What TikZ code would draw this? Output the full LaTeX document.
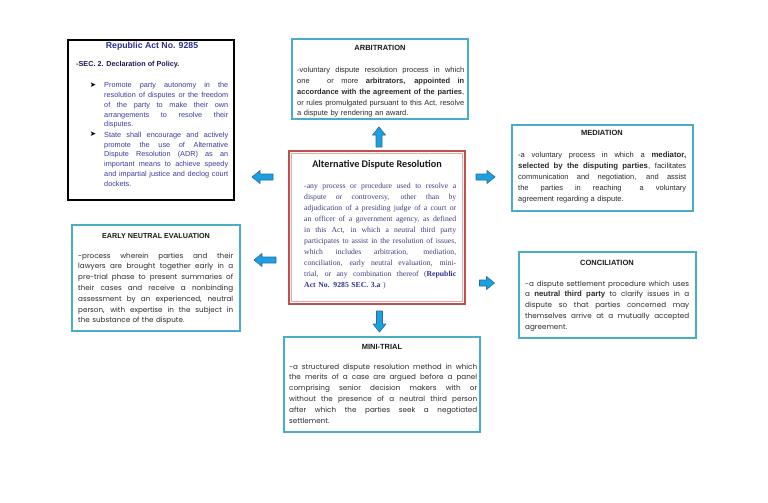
\documentclass[tikz,border=0pt]{standalone}
\usepackage{fontspec}
\setmainfont{Liberation Sans}
\newfontfamily\adrserif{Liberation Serif}
\newfontfamily\adrtitlefont{Carlito}
\newfontfamily\symfont{DejaVu Sans}
\newfontfamily\widefont{Poppins}
\definecolor{boxblue}{HTML}{4BACC6}
\definecolor{arrfill}{HTML}{1BA1E2}
\definecolor{arrdraw}{HTML}{2A6A9A}
\definecolor{adrred}{HTML}{C0504D}
\definecolor{adrpink}{HTML}{E6A9A7}
\definecolor{reptitle}{HTML}{2B2F8F}
\definecolor{repsec}{HTML}{1B1B5E}
\definecolor{repbody}{HTML}{3A3AA0}
\definecolor{bodygray}{HTML}{2B2B2B}
\definecolor{adrtext}{HTML}{3F3F7F}
\definecolor{adrbold}{HTML}{2E3192}
\newcommand\jl[1]{\hbox to\linewidth{\spaceskip=.26em plus 4em minus .08em\xspaceskip=\spaceskip\relax #1}}
\newcommand\nl[1]{\hbox{#1}}
\newcommand\bigb[1]{{\rmfamily\bfseries\fontsize{7.8}{10}\selectfont #1}}
\newcommand\midb[1]{{\rmfamily\bfseries\fontsize{7.8}{10}\selectfont #1}}
\newcommand\barrow[4]{\draw[arrowshape, shift={(#1,#2)}, rotate=#3] (-#4/2,-3) -- ({#4/2-8},-3) -- ({#4/2-8},-6.5) -- (#4/2,0) -- ({#4/2-8},6.5) -- ({#4/2-8},3) -- (-#4/2,3) -- cycle;}
\tikzset{
  bluebox/.style={draw=boxblue, line width=1.8pt, fill=white, inner sep=0pt},
  blkbox/.style={draw=black, line width=2pt, fill=white, inner sep=0pt},
  adrbox/.style={draw=adrred, line width=2.4pt, fill=white, inner sep=0pt},
  adrinner/.style={draw=adrpink, line width=1pt},
  arrowshape/.style={fill=arrfill, draw=arrdraw, line width=0.6pt, line join=round},
  titletxt/.style={inner sep=0pt, anchor=center, font=\bfseries\fontsize{7.5}{9}\selectfont, text=black!90},
  bodytxt/.style={anchor=north west, inner sep=0pt, text width=#1, font=\fontsize{7.5}{10.8}\selectfont, text=bodygray},
  widetxt/.style={anchor=north west, inner sep=0pt, text width=#1, font=\widefont\fontsize{7.2}{10.8}\selectfont, text=bodygray},
  reptxt/.style={anchor=north west, inner sep=0pt, text width=#1, font=\fontsize{7.3}{9.75}\selectfont, text=repbody},
  adrtxt/.style={anchor=north west, inner sep=0pt, text width=#1, font=\adrserif\fontsize{7.7}{11}\selectfont, text=adrtext},
  bulletmark/.style={inner sep=0pt, anchor=center, font=\symfont\fontsize{7.5}{8}\selectfont}
}
\begin{document}
\begin{tikzpicture}[x=1pt,y=-1pt]
\fill[white] (0,0) rectangle (768,503);
\useasboundingbox (0,0) rectangle (768,503);

% boxes
\node[blkbox, minimum width=166, minimum height=160] (rep) at (151,120) {};
\node[bluebox, minimum width=176, minimum height=80] (arb) at (380,79) {};
\node[bluebox, minimum width=181, minimum height=86] (med) at (602.5,168) {};
\node[adrbox, minimum width=176, minimum height=153] (adr) at (377,227.5) {};
\draw[adrinner] ([shift={(3.5,3.5)}]adr.north west) rectangle ([shift={(-3.5,-3.5)}]adr.south east);
\node[bluebox, minimum width=168, minimum height=106] (ene) at (156,278) {};
\node[bluebox, minimum width=177, minimum height=86] (con) at (607.5,295) {};
\node[bluebox, minimum width=196, minimum height=95] (mini) at (382,384.5) {};

% block arrows
\barrow{379}{137}{90}{20}
\barrow{379.5}{321.5}{-90}{21}
\barrow{262.5}{177}{180}{21}
\barrow{265}{260}{180}{22}
\barrow{485.5}{177}{0}{19}
\barrow{487}{283}{0}{15}

% Republic Act box
\node[inner sep=0pt, font=\bfseries\fontsize{8.7}{10}\selectfont, text=reptitle] (reptitle) at (152,46.5) {Republic Act No. 9285};
\node[inner sep=0pt, anchor=west, font=\bfseries\fontsize{7.25}{9}\selectfont, text=repsec] (repsec) at (76,65) {-SEC. 2. Declaration of Policy.};
\node[bulletmark] (b1) at (93,85) {➤};
\node[reptxt=124pt] (rep1) at (104,82.3) {%
\jl{Promote party autonomy in the}
\jl{resolution of disputes or the freedom}
\jl{of the party to make their own}
\jl{arrangements to resolve their}
\nl{disputes.}};
\node[bulletmark] (b2) at (93,134.5) {➤};
\node[reptxt=124pt] (rep2) at (104,131.8) {%
\jl{State shall encourage and actively}
\jl{promote the use of Alternative}
\jl{Dispute Resolution (ADR) as an}
\jl{important means to achieve speedy}
\jl{and impartial justice and declog court}
\nl{dockets.}};

% Arbitration
\node[titletxt] (arbtitle) at (380,48) {ARBITRATION};
\node[bodytxt=167pt] (arbtext) at (297,67) {%
\jl{-voluntary dispute resolution process in which}
\jl{one\hspace{10pt} or more \textbf{arbitrators, appointed in}}
\jl{\textbf{accordance with the agreement of the parties},}
\jl{or rules promulgated pursuant to this Act, resolve}
\nl{a dispute by rendering an award.}};

% Mediation
\node[titletxt] (medtitle) at (602,133) {MEDIATION};
\node[bodytxt=168pt] (medtext) at (518,152) {%
\jl{-a voluntary process in which a \bigb{mediator,}}
\jl{\bigb{selected by the disputing parties}, facilitates}
\jl{communication and negotiation, and assist}
\jl{the parties in reaching \hspace{6pt}a voluntary}
\nl{agreement regarding a dispute.}};

% Alternative Dispute Resolution
\node[inner sep=0pt, font=\adrtitlefont\bfseries\fontsize{10.2}{12}\selectfont, text=black!90] (adrtitle) at (377,165) {Alternative Dispute Resolution};
\node[adrtxt=152pt] (adrtext) at (304,183) {%
\jl{-any process or procedure used to resolve a}
\jl{dispute or controversy, other than by}
\jl{adjudication of a presiding judge of a court or}
\jl{an officer of a government agency, as defined}
\jl{in this Act, in which a neutral third party}
\jl{participates to assist in the resolution of issues,}
\jl{which includes arbitration, mediation,}
\jl{conciliation, early neutral evaluation, mini-}
\jl{trial, or any combination thereof (\textbf{\color{adrbold}Republic}}
\nl{\textbf{\color{adrbold}Act No. 9285 SEC. 3.a} )}};

% Early neutral evaluation
\node[titletxt, font=\bfseries\fontsize{7.2}{9}\selectfont] (enetitle) at (156,236) {EARLY NEUTRAL EVALUATION};
\node[widetxt=155pt] (enetext) at (78,252.5) {%
\jl{-process wherein parties and their}
\jl{lawyers are brought together early in a}
\jl{pre-trial phase to present summaries of}
\jl{their cases and receive a nonbinding}
\jl{assessment by an experienced, neutral}
\jl{person, with expertise in the subject in}
\nl{the substance of the dispute.}};

% Conciliation
\node[titletxt] (contitle) at (607,263) {CONCILIATION};
\node[widetxt=164pt] (context) at (525,280.5) {%
\jl{-a dispute settlement procedure which uses}
\jl{a \midb{neutral third party} to clarify issues in a}
\jl{dispute so that parties concerned may}
\jl{themselves arrive at a mutually accepted}
\nl{agreement.}};

% Mini-trial
\node[titletxt] (minititle) at (382,347) {MINI-TRIAL};
\node[widetxt=188pt] (minitext) at (289,363.5) {%
\jl{-a structured dispute resolution method in which}
\jl{the merits of a case are argued before a panel}
\jl{comprising senior decision makers with or}
\jl{without the presence of a neutral third person}
\jl{after which the parties seek a negotiated}
\nl{settlement.}};
\end{tikzpicture}
\end{document}
